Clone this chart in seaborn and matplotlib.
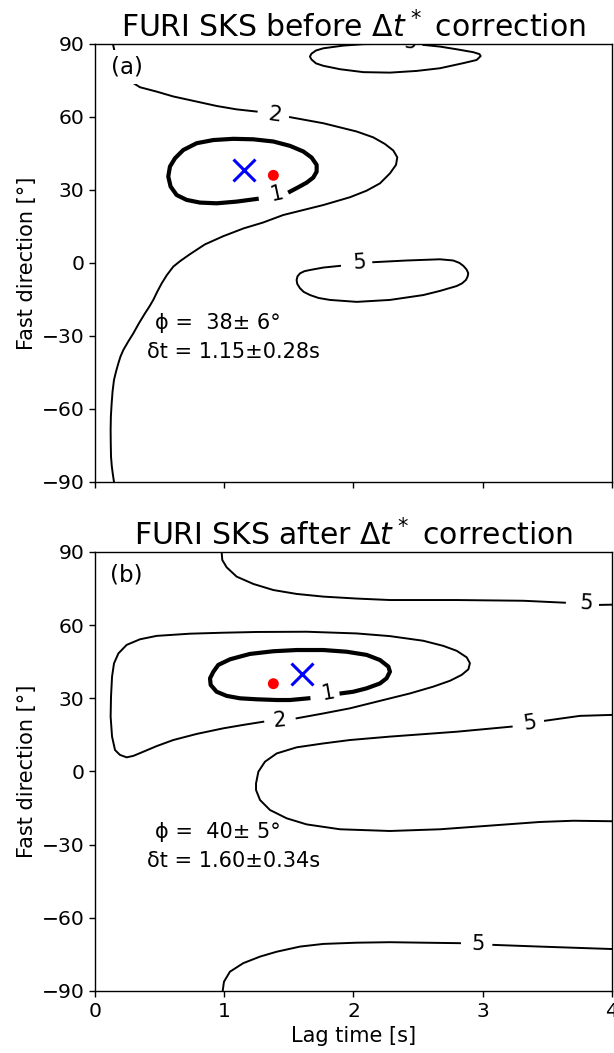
import matplotlib
matplotlib.use("Agg")
import matplotlib.pyplot as plt
import seaborn as sns
import pandas as pd

# ---------------- splitting results ----------------
phi_a, dphi_a, dt_a, ddt_a = 38, 6, 1.15, 0.28
phi_b, dphi_b, dt_b, ddt_b = 40, 5, 1.60, 0.34
ref_dt, ref_phi = 1.38, 36

# ---------------- contour traces (lag time [s], fast direction [deg]) ----------------
# panel (a): before correction
a_lev1 = [(1.251, 26.3), (1.096, 25.2), (0.941, 24.5), (0.812, 24.8), (0.709, 25.9),
          (0.632, 27.9), (0.585, 31.4), (0.567, 35.5), (0.580, 39.6), (0.619, 43.0),
          (0.683, 46.4), (0.787, 49.2), (0.916, 50.5), (1.070, 51.0), (1.225, 50.8),
          (1.380, 49.9), (1.509, 48.1), (1.612, 45.8), (1.676, 43.3), (1.715, 40.3),
          (1.715, 37.5), (1.689, 35.1), (1.638, 33.0), (1.573, 31.1), (1.509, 29.3)]
a_lev2_upper = [(0.139, 90.0), (0.145, 88.5), (0.160, 85.0), (0.190, 80.5), (0.240, 76.5),
                (0.300, 73.8), (0.348, 72.2), (0.477, 70.4), (0.606, 68.4), (0.787, 66.3),
                (0.941, 64.5), (1.096, 63.1), (1.251, 62.2)]
a_lev2_lower = [(1.509, 59.9), (1.767, 57.4), (2.025, 54.0), (2.153, 51.6), (2.243, 48.9),
                (2.308, 46.2), (2.339, 43.4), (2.329, 40.3), (2.282, 36.8), (2.205, 32.7),
                (2.102, 29.7), (1.973, 27.0), (1.767, 23.8), (1.457, 19.7), (1.300, 16.6),
                (1.150, 14.2), (0.993, 11.0), (0.850, 7.6), (0.735, 3.6), (0.660, 0.8),
                (0.606, -1.5), (0.556, -5.0), (0.516, -8.4), (0.482, -11.8), (0.451, -15.2),
                (0.420, -18.0), (0.387, -20.7), (0.340, -24.8), (0.297, -28.9), (0.255, -32.5),
                (0.219, -35.8), (0.197, -38.5), (0.181, -41.2), (0.162, -44.8), (0.147, -48.1),
                (0.136, -52.8), (0.129, -57.7), (0.123, -63.0), (0.121, -68.6), (0.122, -74.0),
                (0.124, -79.6), (0.130, -83.5), (0.137, -86.4), (0.147, -90.0)]
a_lev5_top = [(2.540, 89.6), (2.669, 88.9), (2.798, 87.8), (2.927, 86.6), (2.975, 85.8),
              (2.984, 85.0), (2.953, 83.4), (2.850, 82.1), (2.669, 80.0), (2.489, 78.9),
              (2.282, 78.2), (2.076, 78.4), (1.896, 79.6), (1.767, 81.0), (1.710, 82.0),
              (1.675, 83.6), (1.663, 84.8), (1.675, 86.0), (1.710, 87.3), (1.767, 88.2),
              (1.921, 89.3), (2.076, 89.9), (2.205, 90.0)]
a_lev5_mid = [(2.153, 0.3), (2.411, 1.0), (2.669, 1.5), (2.772, 1.0), (2.820, 0.0),
              (2.850, -1.2), (2.875, -2.7), (2.888, -4.2), (2.883, -5.6), (2.870, -7.0),
              (2.840, -8.4), (2.798, -9.5), (2.669, -11.5), (2.540, -13.2), (2.282, -15.2),
              (2.025, -16.0), (1.818, -15.2), (1.730, -14.4), (1.664, -13.2), (1.615, -11.9),
              (1.586, -10.4), (1.565, -8.6), (1.560, -7.0), (1.567, -5.5), (1.586, -4.3),
              (1.620, -3.4), (1.664, -2.9), (1.767, -1.9), (1.896, -1.2)]

# panel (b): after correction
b_lev1 = [(1.651, 30.0), (1.509, 29.3), (1.406, 29.3), (1.251, 29.6), (1.122, 30.0),
          (1.019, 31.0), (0.941, 32.7), (0.895, 35.5), (0.890, 38.2), (0.916, 40.9),
          (0.954, 43.7), (1.045, 46.0), (1.199, 48.2), (1.380, 49.3), (1.560, 49.8),
          (1.767, 49.8), (1.947, 49.1), (2.102, 47.8), (2.205, 45.7), (2.270, 43.0),
          (2.282, 40.9), (2.256, 38.2), (2.205, 36.1), (2.102, 34.1), (1.999, 32.7),
          (1.908, 32.05)]
b_lev2 = [(1.302, 20.4), (1.148, 19.1), (0.993, 17.7), (0.787, 15.4), (0.606, 12.9),
          (0.477, 10.4), (0.374, 8.1), (0.297, 6.4), (0.245, 5.8), (0.193, 6.8),
          (0.155, 8.8), (0.132, 14.3), (0.121, 22.5), (0.124, 30.7), (0.132, 38.9),
          (0.147, 44.3), (0.181, 48.4), (0.245, 51.9), (0.348, 54.2), (0.477, 55.6),
          (0.735, 56.5), (0.993, 56.9), (1.251, 57.2), (1.638, 57.3), (2.025, 56.6),
          (2.282, 55.5), (2.540, 53.6), (2.695, 51.5), (2.798, 49.5), (2.876, 46.8),
          (2.901, 44.4), (2.889, 41.9), (2.837, 39.6), (2.747, 37.2), (2.618, 34.8),
          (2.437, 32.0), (2.231, 29.3), (1.973, 25.9), (1.767, 23.8), (1.560, 21.8)]
b_lev5_top_left = [(0.980, 90.0), (0.985, 86.7), (1.019, 83.7), (1.096, 79.9), (1.225, 76.9),
                   (1.380, 74.4), (1.560, 72.8), (1.767, 71.7), (2.025, 70.9), (2.282, 70.3),
                   (2.798, 70.3), (3.314, 70.0), (3.636, 69.2)]
b_lev5_top_right = [(3.907, 68.3), (4.000, 68.4)]
b_lev5_mid_right = [(4.000, 23.2), (3.752, 22.8), (3.482, 20.8)]
b_lev5_mid_left = [(3.224, 18.4), (2.798, 16.3), (2.282, 14.3), (1.973, 12.9), (1.767, 11.5),
                   (1.560, 9.9), (1.406, 7.4), (1.315, 4.0), (1.264, -0.1), (1.246, -4.9),
                   (1.246, -7.6), (1.277, -11.7), (1.354, -15.8), (1.483, -19.2), (1.638, -21.7),
                   (1.896, -23.7), (2.282, -24.4), (2.669, -23.7), (3.056, -22.2), (3.443, -20.7),
                   (3.701, -20.2), (4.000, -20.4)]
b_lev5_bot_left = [(0.988, -90.0), (0.998, -86.2), (1.044, -82.1), (1.147, -78.6), (1.277, -75.9),
                   (1.406, -73.9), (1.586, -71.8), (1.767, -70.7), (2.025, -70.2), (2.282, -70.0),
                   (2.540, -70.2), (2.824, -70.4)]
b_lev5_bot_right = [(3.082, -71.1), (3.443, -71.8), (4.000, -72.8)]

# inline contour labels: (text, lag, direction, angle)
a_labels = [("1", 1.406, 28.6, 12), ("2", 1.393, 60.8, -8), ("5", 2.05, 0.1, 4),
            ("5", 2.44, 90.6, -3)]
b_labels = [("1", 1.805, 32.05, 10), ("2", 1.431, 21.1, 5), ("5", 3.804, 68.9, -3),
            ("5", 3.366, 20.0, 9), ("5", 2.966, -70.7, -1)]

x_ticks = [0, 1, 2, 3, 4]
y_ticks = [-90, -60, -30, 0, 30, 60, 90]

panels = [
    dict(title="FURI SKS before $\\Delta t^*$ correction", tag="(a)",
         phi=phi_a, dphi=dphi_a, dt=dt_a, ddt=ddt_a,
         curves=[(a_lev1, 1), (a_lev2_upper, 2), (a_lev2_lower, 2), (a_lev5_top, 5),
                 (a_lev5_mid, 5)],
         labels=a_labels),
    dict(title="FURI SKS after $\\Delta t^*$ correction", tag="(b)",
         phi=phi_b, dphi=dphi_b, dt=dt_b, ddt=ddt_b,
         curves=[(b_lev1, 1), (b_lev2, 2), (b_lev5_top_left, 5), (b_lev5_top_right, 5),
                 (b_lev5_mid_right, 5), (b_lev5_mid_left, 5), (b_lev5_bot_left, 5),
                 (b_lev5_bot_right, 5)],
         labels=b_labels),
]

plt.rcParams.update({
    "font.family": ["DejaVu Sans"],
    "axes.linewidth": 1.0,
    "xtick.major.size": 4.2, "ytick.major.size": 4.2,
    "xtick.major.width": 1.0, "ytick.major.width": 1.0,
    "xtick.labelsize": 14.6, "ytick.labelsize": 14.6,
    "axes.labelsize": 15,
})

fig = plt.figure(figsize=(6.14, 10.53), dpi=100)
ax_top = fig.add_axes([0.1547, 0.5423, 0.8420, 0.4160])
ax_bot = fig.add_axes([0.1547, 0.0589, 0.8420, 0.4169], sharex=ax_top)

for ax, p in zip([ax_top, ax_bot], panels):
    for pts, level in p["curves"]:
        df = pd.DataFrame(pts, columns=["lag", "phi"])
        sns.lineplot(data=df, x="lag", y="phi", sort=False, estimator=None, ax=ax,
                     color="black", linewidth=3.0 if level == 1 else 1.4)
    for s, lx, ly, ang in p["labels"]:
        ax.text(lx, ly, s, fontsize=15, ha="center", va="center", rotation=ang,
                rotation_mode="anchor", clip_on=True, zorder=4)

    sns.scatterplot(x=[ref_dt], y=[ref_phi], ax=ax, color="red", s=62,
                    edgecolor="none", zorder=5)
    sns.scatterplot(x=[p["dt"]], y=[p["phi"]], ax=ax, marker="x", color="blue",
                    s=250, linewidth=2.2, zorder=6)

    ax.text(0.245, 80.5, p["tag"], fontsize=16.5, ha="center", va="center", zorder=7,
            bbox=dict(boxstyle="square,pad=0.22", facecolor="white", edgecolor="none"))
    ax.text(0.464, -24.8, f"\u03d5 = {p['phi']:3d}\u00b1{p['dphi']:2d}\u00b0", fontsize=15,
            ha="left", va="center")
    ax.text(0.405, -36.8, f"\u03b4t = {p['dt']:.2f}\u00b1{p['ddt']:.2f}s", fontsize=15,
            ha="left", va="center")

    ax.set_xlim(0, 4)
    ax.set_ylim(-90, 90)
    ax.set_xticks(x_ticks)
    ax.set_yticks(y_ticks)
    ax.set_ylabel("Fast direction [\u00b0]", labelpad=3)
    ax.set_xlabel("")
    ax.set_title(p["title"], fontsize=21.5, pad=5)

plt.setp(ax_top.get_xticklabels(), visible=False)
ax_bot.set_xlabel("Lag time [s]")

fig.savefig("out.png", dpi=100)
